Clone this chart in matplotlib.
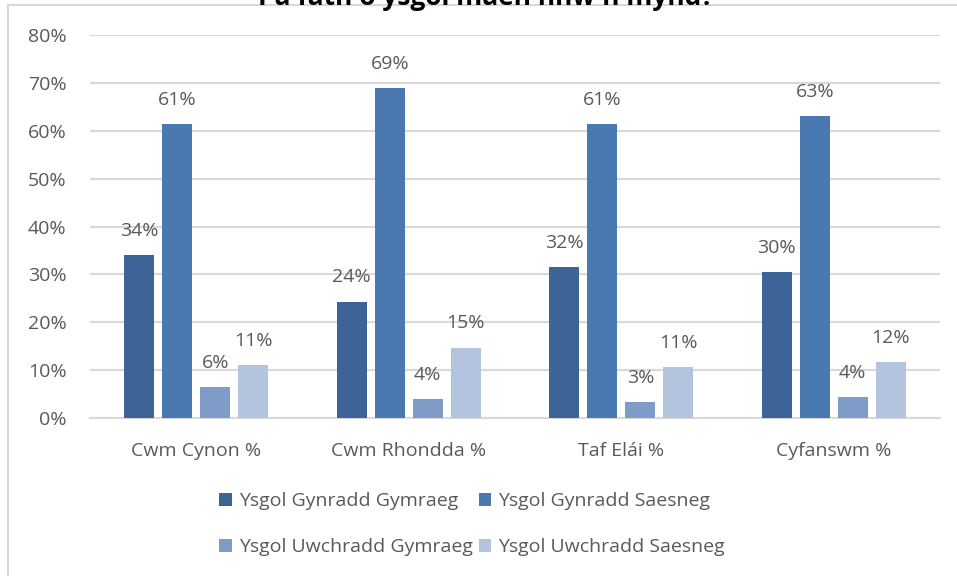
import matplotlib
matplotlib.use("Agg")
import matplotlib.pyplot as plt
from matplotlib.lines import Line2D
import numpy as np

categories = ["Cwm Cynon %", "Cwm Rhondda %", "Taf Elái %", "Cyfanswm %"]
series_names = ["Ysgol Gynradd Gymraeg", "Ysgol Gynradd Saesneg",
                "Ysgol Uwchradd Gymraeg", "Ysgol Uwchradd Saesneg"]
gynradd_gymraeg = [0.340, 0.243, 0.315, 0.305]
gynradd_saesneg = [0.614, 0.689, 0.614, 0.630]
uwchradd_gymraeg = [0.064, 0.040, 0.033, 0.044]
uwchradd_saesneg = [0.111, 0.147, 0.106, 0.117]
yticks = [0, 0.1, 0.2, 0.3, 0.4, 0.5, 0.6, 0.7, 0.8]
title = "Pa fath o ysgol maen nhw'n mynd?"

series = [gynradd_gymraeg, gynradd_saesneg, uwchradd_gymraeg, uwchradd_saesneg]
colors = ["#3C6496", "#4A78B0", "#7F9CC8", "#B4C3DE"]

plt.rcParams['font.family'] = ['Open Sans', 'DejaVu Sans']
txt = "#595959"
W, H = 957, 576
fig = plt.figure(figsize=(W / 100, H / 100), dpi=100)
ax = fig.add_axes([90 / W, 1 - 418 / H, 850 / W, (418 - 35) / H])

x = np.arange(len(categories))
step = 0.179
width = 0.141
offsets = (np.arange(4) - 1.5) * step
for i, (vals, col, name) in enumerate(zip(series, colors, series_names)):
    bars = ax.bar(x + offsets[i], vals, width, color=col, label=name, zorder=3)
    for b, v in zip(bars, vals):
        ax.annotate(f"{round(v * 100):.0f}%", (b.get_x() + b.get_width() / 2, v),
                    xytext=(0, 11), textcoords="offset points",
                    ha="center", va="bottom", fontsize=14, color=txt)

ax.set_xlim(-0.5, len(categories) - 0.5)
ax.set_ylim(0, 0.8)
ax.set_yticks(yticks)
ax.set_yticklabels([f"{int(round(t * 100))}%" for t in yticks])
ax.set_xticks(x)
ax.set_xticklabels(categories)
ax.tick_params(axis="both", length=0, labelsize=14, colors=txt)
ax.tick_params(axis="y", pad=17)
ax.tick_params(axis="x", pad=17)
ax.grid(axis="y", color="#D9D9D9", linewidth=1.5, zorder=0)
for s in ["top", "right", "left"]:
    ax.spines[s].set_visible(False)
ax.spines["bottom"].set_color("#D9D9D9")
ax.spines["bottom"].set_linewidth(1.5)

handles, labels = ax.get_legend_handles_labels()
order = [0, 2, 1, 3]
leg = fig.legend([handles[k] for k in order], [labels[k] for k in order], ncol=2,
                 loc="center", bbox_to_anchor=(472 / W, 1 - 524 / H), frameon=False,
                 fontsize=14, labelcolor=txt, handlelength=0.65, handleheight=0.65,
                 handletextpad=0.35, columnspacing=0.3, labelspacing=1.45)

# chart border (cropped)
fig.add_artist(Line2D([8 / W, 1], [1 - 5 / H, 1 - 5 / H], color="#D9D9D9", lw=1.5,
                      transform=fig.transFigure))
fig.add_artist(Line2D([8 / W, 8 / W], [0, 1 - 5 / H], color="#D9D9D9", lw=1.5,
                      transform=fig.transFigure))
fig.text(486 / W, 1 - 5 / H, title, ha="center", va="baseline", fontsize=19,
         fontweight="bold", color="#000000")

fig.savefig("out.png", dpi=100)
